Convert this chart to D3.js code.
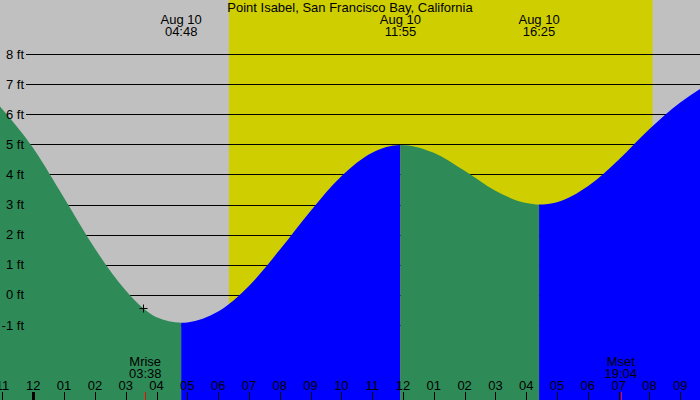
<!DOCTYPE html>
<html>
<head>
<meta charset="utf-8">
<script src="https://cdn.jsdelivr.net/npm/d3@7"></script>
<style>
  html, body { margin: 0; padding: 0; background: #fff; }
  svg { display: block; }
  text { font-family: "Liberation Sans", Arial, sans-serif; font-size: 13px; fill: #000; }
</style>
</head>
<body>
<svg id="chart" width="700" height="400"></svg>
<script>
// ---- Data (hours relative to Aug 10 00:00, heights in ft) ----
const title = "Point Isabel, San Francisco Bay, California";
const tideHours   = [-1.1, 0, 1, 2, 3, 3.56, 4, 4.8, 5, 6, 7, 8, 9, 10, 11, 11.917, 13, 14, 15, 16, 16.417, 17, 18, 19, 20, 21, 21.7];
const tideHeights = [6.28, 4.87, 3.22, 1.54, 0.15, -0.43, -0.74, -0.92, -0.91, -0.55, 0.30, 1.50, 2.79, 3.94, 4.72, 4.98, 4.72, 4.12, 3.46, 3.05, 3.0, 3.08, 3.61, 4.49, 5.51, 6.39, 6.88];
const extremeHours  = [4.8, 11.917, 16.417];
const extremeLabels = ["04:48", "11:55", "16:25"];
const extremeDates  = ["Aug 10", "Aug 10", "Aug 10"];
const sunrise = 6.35, sunset = 20.1;
const moonEvents = ["Mrise", "Mset"];
const moonHours  = [3.633, 19.067];
const moonLabels = ["03:38", "19:04"];
const nowHour = 3.56, nowHeight = -0.43;
const feetTicks = [-1, 0, 1, 2, 3, 4, 5, 6, 7, 8];
const hourTicks = d3.range(-1, 22);

// ---- Scales ----
const W = 700, H = 400;
const x = d3.scaleLinear().domain([0, 12]).range([33.3, 403]);
const y = d3.scaleLinear().domain([-1, 8]).range([325.1, 54]);

const svg = d3.select("#chart");

// night background
svg.append("rect").attr("x", 0).attr("y", 0).attr("width", W).attr("height", H).attr("fill", "#c0c0c0");
// daylight
svg.append("rect").attr("x", x(sunrise)).attr("y", 0)
  .attr("width", x(sunset) - x(sunrise)).attr("height", H).attr("fill", "#cece00");

// grid lines
svg.append("g").selectAll("line").data(feetTicks).join("line")
  .attr("x1", 26).attr("x2", W)
  .attr("y1", d => Math.round(y(d)) + 0.5).attr("y2", d => Math.round(y(d)) + 0.5)
  .attr("stroke", "#000").attr("stroke-width", 1);

// tide area, coloured by rising / falling segments
const pts = tideHours.map((h, i) => [h, tideHeights[i]]);
const area = d3.area().x(d => x(d[0])).y0(H).y1(d => y(d[1])).curve(d3.curveMonotoneX);
const bounds = [tideHours[0]].concat(extremeHours).concat([tideHours[tideHours.length - 1]]);
const segColors = ["#2e8b57", "#0000ff", "#2e8b57", "#0000ff"];
const defs = svg.append("defs");
segColors.forEach((c, i) => {
  defs.append("clipPath").attr("id", "seg" + i).append("rect")
    .attr("x", x(bounds[i])).attr("y", 0)
    .attr("width", x(bounds[i + 1]) - x(bounds[i])).attr("height", H);
  svg.append("path").datum(pts).attr("d", area).attr("fill", c)
    .attr("clip-path", "url(#seg" + i + ")");
});

// feet labels
svg.append("g").selectAll("text").data(feetTicks).join("text")
  .attr("x", 24).attr("y", d => y(d) + 4.5).attr("text-anchor", "end")
  .text(d => d + " ft");

// title
svg.append("text").attr("x", 350).attr("y", 12).attr("text-anchor", "middle").text(title);

// extreme labels
const ex = svg.append("g").selectAll("g").data(extremeHours).join("g");
ex.append("text").attr("x", d => x(d)).attr("y", 24).attr("text-anchor", "middle")
  .text((d, i) => extremeDates[i]);
ex.append("text").attr("x", d => x(d)).attr("y", 36).attr("text-anchor", "middle")
  .text((d, i) => extremeLabels[i]);

// hour ticks and labels
svg.append("g").selectAll("line").data(hourTicks).join("line")
  .attr("x1", d => Math.round(x(d)) + 0.5).attr("x2", d => Math.round(x(d)) + 0.5)
  .attr("y1", 392).attr("y2", H)
  .attr("stroke", "#000").attr("stroke-width", d => d === 0 ? 3 : 1);
svg.append("g").selectAll("text").data(hourTicks).join("text")
  .attr("x", d => x(d)).attr("y", 390).attr("text-anchor", "middle")
  .text(d => { const h = ((d % 12) + 12) % 12; return String(h === 0 ? 12 : h).padStart(2, "0"); });

// moon events
const mo = svg.append("g").selectAll("g").data(moonHours).join("g");
mo.append("line")
  .attr("x1", d => Math.round(x(d)) + 0.5).attr("x2", d => Math.round(x(d)) + 0.5)
  .attr("y1", 392).attr("y2", H).attr("stroke", "#ff0000").attr("stroke-width", 1);
mo.append("text").attr("x", d => x(d)).attr("y", 366).attr("text-anchor", "middle")
  .text((d, i) => moonEvents[i]);
mo.append("text").attr("x", d => x(d)).attr("y", 378).attr("text-anchor", "middle")
  .text((d, i) => moonLabels[i]);

// current time marker
const nx = Math.round(x(nowHour)) + 0.5, ny = Math.round(y(nowHeight)) + 0.5;
svg.append("path").attr("d", `M${nx - 4},${ny}H${nx + 4}M${nx},${ny - 4}V${ny + 4}`)
  .attr("stroke", "#000").attr("stroke-width", 1).attr("fill", "none");
</script>
</body>
</html>
